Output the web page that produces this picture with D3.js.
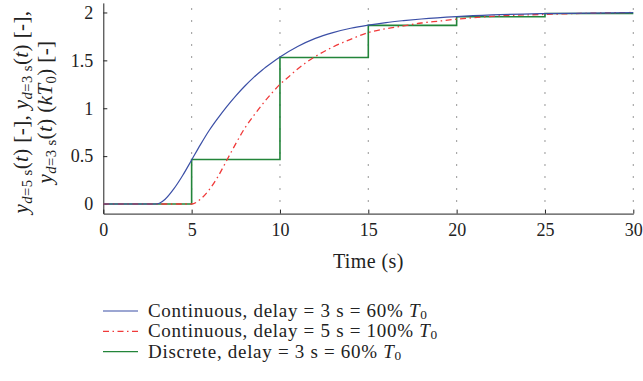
<!DOCTYPE html>
<html>
<head>
<meta charset="utf-8">
<script src="https://cdn.jsdelivr.net/npm/d3@7"></script>
<style>
  html, body { margin: 0; padding: 0; background: #fff; }
  svg { display: block; }
  text { font-family: "Liberation Serif", "Times New Roman", serif; fill: #222; }
</style>
</head>
<body>
<svg id="chart" width="643" height="381"></svg>
<script>
// time (s) / output values
const blueT = [0, 3, 3.2, 3.5, 4, 4.5, 5, 5.5, 6, 6.5, 7, 7.5, 8, 8.5, 9, 9.5, 10, 11, 12, 13, 14, 15, 16, 17, 18, 20, 22, 25, 30];
const blueY = [0, 0, 0.01, 0.05, 0.16, 0.30, 0.46, 0.62, 0.77, 0.90, 1.02, 1.13, 1.23, 1.32, 1.40, 1.47, 1.535, 1.645, 1.73, 1.79, 1.835, 1.868, 1.895, 1.915, 1.932, 1.957, 1.974, 1.988, 1.998];

const redT = [0, 5, 5.5, 6, 6.5, 7, 7.5, 8, 8.5, 9, 9.5, 10, 10.5, 11, 11.5, 12, 13, 14, 15, 16, 17, 18, 19, 20, 22, 25, 27, 30];
const redY = [0, 0, 0.05, 0.15, 0.29, 0.46, 0.63, 0.79, 0.92, 1.04, 1.15, 1.25, 1.33, 1.41, 1.48, 1.54, 1.64, 1.72, 1.79, 1.83, 1.86, 1.89, 1.91, 1.93, 1.96, 1.98, 1.99, 2.0];

const stepT = [0, 5, 10, 15, 20, 25, 30];
const stepY = [0, 0.465, 1.53, 1.865, 1.955, 1.99, 1.99];

const xTicks = [0, 5, 10, 15, 20, 25, 30];
const yTicks = [0, 0.5, 1, 1.5, 2];

const seriesNames = ["Continuous, delay = 3 s = 60% ", "Continuous, delay = 5 s = 100% ", "Discrete, delay = 3 s = 60% "];
const seriesColors = ["#3b4fa6", "#f03a3a", "#23853a"];

const Width = 643, Height = 381;
const MarginLeft = 103.3, MarginRight = 9.7, MarginTop = 2.9, PlotBottom = 213.6;

const X = d3.scaleLinear().domain([0, 30]).range([MarginLeft, Width - MarginRight]);
const Y = d3.scaleLinear().domain([-0.1, 2.1]).range([PlotBottom, MarginTop]);

const SVG = d3.select("#chart");

// dotted vertical grid
SVG.append("g")
  .selectAll("line")
  .data(xTicks.filter(d => d > 0))
  .join("line")
  .attr("x1", d => X(d)).attr("x2", d => X(d))
  .attr("y1", PlotBottom - 12).attr("y2", MarginTop)
  .attr("stroke", "#444")
  .attr("stroke-width", 1.1)
  .attr("stroke-dasharray", "1.1,10.9");

// axes
const XAxis = g => g
  .attr("transform", `translate(0,${PlotBottom})`)
  .call(d3.axisBottom(X).tickValues(xTicks).tickSizeInner(-4).tickSizeOuter(0).tickPadding(10))
  .call(g => g.select(".domain").attr("stroke", "#222"))
  .call(g => g.selectAll(".tick line").attr("stroke", "#222"))
  .call(g => g.selectAll("text").attr("font-size", 18).attr("fill", "#222").attr("font-family", "Liberation Serif"));

const YAxis = g => g
  .attr("transform", `translate(${MarginLeft},0)`)
  .call(d3.axisLeft(Y).tickValues(yTicks).tickFormat(d => d).tickSizeInner(-4).tickSizeOuter(0).tickPadding(10))
  .call(g => g.select(".domain").attr("stroke", "#222"))
  .call(g => g.selectAll(".tick line").attr("stroke", "#222"))
  .call(g => g.selectAll("text").attr("font-size", 18).attr("fill", "#222").attr("font-family", "Liberation Serif"));

SVG.append("g").call(XAxis);
SVG.append("g").call(YAxis);

// series
const line = d3.line().x(d => X(d[0])).y(d => Y(d[1]));
const blueData = d3.zip(blueT, blueY);
const redData = d3.zip(redT, redY);
const stepData = d3.zip(stepT, stepY);

SVG.append("path").datum(stepData)
  .attr("d", line.curve(d3.curveStepAfter))
  .attr("fill", "none").attr("stroke", seriesColors[2]).attr("stroke-width", 1.6);

SVG.append("path").datum(redData)
  .attr("d", line.curve(d3.curveMonotoneX))
  .attr("fill", "none").attr("stroke", seriesColors[1]).attr("stroke-width", 1.3)
  .attr("stroke-dasharray", "6,3.5,1.5,3.5");

SVG.append("path").datum(blueData)
  .attr("d", line.curve(d3.curveMonotoneX))
  .attr("fill", "none").attr("stroke", seriesColors[0]).attr("stroke-width", 1.2);

// axis title
SVG.append("text")
  .attr("x", (X(0) + X(30)) / 2).attr("y", 268)
  .attr("text-anchor", "middle").attr("font-size", 20).attr("letter-spacing", 0.4)
  .text("Time (s)");

// y label built from pieces: [text, italic?, sub?]
function rich(textSel, parts, shift = "-25%") {
  parts.forEach(([s, it, sub]) => {
    const t = textSel.append("tspan").text(s);
    if (it) t.attr("font-style", "italic");
    if (sub) t.attr("font-size", "70%").attr("baseline-shift", shift);
  });
}

const yLab = SVG.append("g").attr("transform", "translate(0,112) rotate(-90)");
const l1 = yLab.append("text").attr("x", 0).attr("y", 28).attr("text-anchor", "middle")
  .attr("font-size", 21).attr("letter-spacing", 0.4);
rich(l1, [["y", 1, 0], ["d", 1, 1], ["=5 s", 0, 1], ["(", 0, 0], ["t", 1, 0], [") [-], ", 0, 0],
          ["y", 1, 0], ["d", 1, 1], ["=3 s", 0, 1], ["(", 0, 0], ["t", 1, 0], [") [-],", 0, 0]]);
const l2 = yLab.append("text").attr("x", 0).attr("y", 52).attr("text-anchor", "middle")
  .attr("font-size", 21).attr("letter-spacing", 0.4);
rich(l2, [["y", 1, 0], ["d", 1, 1], ["=3 s", 0, 1], ["(", 0, 0], ["t", 1, 0], [") (", 0, 0],
          ["kT", 1, 0], ["0", 0, 1], [") [-]", 0, 0]]);

// legend
const Legend = SVG.append("g");
seriesNames.forEach((name, i) => {
  const yy = 311 + i * 20.3;
  const ln = Legend.append("line")
    .attr("x1", 103).attr("x2", 138).attr("y1", yy).attr("y2", yy)
    .attr("stroke", seriesColors[i]).attr("stroke-width", i === 2 ? 1.4 : 1.2);
  if (i === 1) ln.attr("stroke-dasharray", "6,3.5,1.5,3.5");
  const t = Legend.append("text").attr("x", 148).attr("y", yy + 6)
    .attr("font-size", 19).attr("letter-spacing", 0.7);
  rich(t, [[name, 0, 0], ["T", 1, 0], ["0", 0, 1]], "-18%");
});
</script>
</body>
</html>
